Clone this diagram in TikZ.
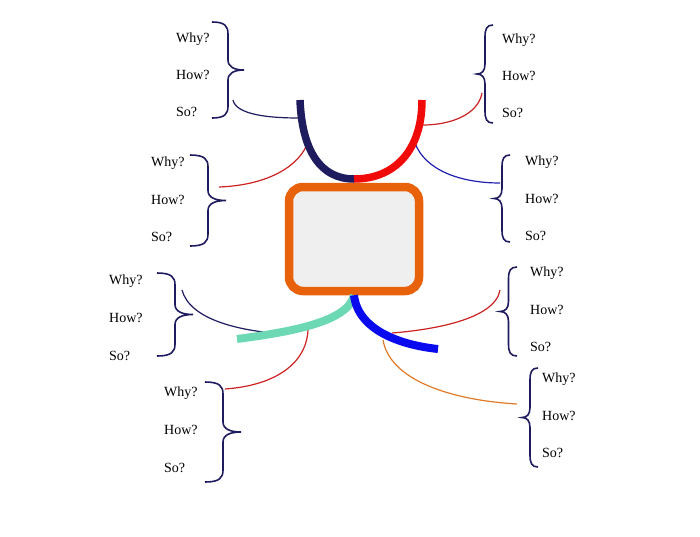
\documentclass[tikz,border=0pt]{standalone}
\usepackage{fontspec}
\setmainfont{Liberation Serif}
\usepackage{tikz}

\definecolor{inkNavy}{HTML}{1E1B5E}
\definecolor{armRed}{HTML}{F00A0A}
\definecolor{twigRed}{HTML}{CC2222}
\definecolor{twigBlue}{HTML}{2020B0}
\definecolor{armBlue}{HTML}{0A0AEE}
\definecolor{armTeal}{HTML}{6CD9B4}
\definecolor{boxOrange}{HTML}{E8620C}
\definecolor{twigOrange}{HTML}{E07A28}
\definecolor{boxGray}{HTML}{EFEFEF}

\begin{document}
\begin{tikzpicture}[
    x=1pt, y=-1pt,
    q/.style={anchor=base west, inner sep=0pt, font=\fontsize{14}{16}\selectfont},
    arm/.style={line width=7.5pt},
    twig/.style={line width=1.2pt},
    % hand-drawn curly brace: #1 = height, #2 = offset of the straight part
    pics/qbrace/.style 2 args={code={
        \draw[inkNavy, line width=1.6pt]
            (0,0) .. controls ({0.8*#2},0) and (#2,4) .. (#2,12)
            -- (#2,{#1/2-10}) .. controls (#2,{#1/2-3}) and ({1.4*#2},{#1/2}) .. ({2*#2},{#1/2})
            .. controls ({1.4*#2},{#1/2}) and (#2,{#1/2+3}) .. (#2,{#1/2+10})
            -- (#2,{#1-12}) .. controls (#2,{#1-4}) and ({0.8*#2},#1) .. (0,#1);
    }}
]
    \useasboundingbox (0,0) rectangle (700,536);

    % Centre box
    \node[draw=boxOrange, line width=8.5pt, fill=boxGray, rounded corners=14pt,
          minimum width=130pt, minimum height=104pt] (core) at (354,239) {};

    % Question groups
    \node[q] (w1) at (176,42) {Why?};  \node[q] (h1) at (176,79) {How?};  \node[q] (s1) at (176,116) {So?};
    \node[q] (w2) at (502,43) {Why?};  \node[q] (h2) at (502,80) {How?};  \node[q] (s2) at (502,117) {So?};
    \node[q] (w3) at (151,166) {Why?}; \node[q] (h3) at (151,204) {How?}; \node[q] (s3) at (151,241) {So?};
    \node[q] (w4) at (525,165) {Why?}; \node[q] (h4) at (525,203) {How?}; \node[q] (s4) at (525,240) {So?};
    \node[q] (w5) at (109,284) {Why?}; \node[q] (h5) at (109,322) {How?}; \node[q] (s5) at (109,360) {So?};
    \node[q] (w6) at (164,396) {Why?}; \node[q] (h6) at (164,434) {How?}; \node[q] (s6) at (164,472) {So?};
    \node[q] (w7) at (530,276) {Why?}; \node[q] (h7) at (530,314) {How?}; \node[q] (s7) at (530,351) {So?};
    \node[q] (w8) at (542,382) {Why?}; \node[q] (h8) at (542,420) {How?}; \node[q] (s8) at (542,457) {So?};

    % Braces
    \pic (br1) at (212,22)  {qbrace={96}{16}};
    \pic (br2) at (493,25)  {qbrace={98}{-8}};
    \pic (br3) at (190,155) {qbrace={91}{18}};
    \pic (br4) at (510,155) {qbrace={87}{-8}};
    \pic (br5) at (157,273) {qbrace={83}{18}};
    \pic (br6) at (205,382) {qbrace={100}{18}};
    \pic (br7) at (517,267) {qbrace={89}{-8.5}};
    \pic (br8) at (538,368) {qbrace={99}{-8}};

    % Thick arms
    \coordinate (armL) at (300,100);
    \coordinate (armR) at (422,100);
    \coordinate (armB) at (354,179);
    \coordinate (tealEnd) at (237,339);
    \coordinate (blueEnd) at (438,349);

    % Thin twigs
    \coordinate (t1a) at (233,100); \coordinate (t1b) at (299,118);
    \coordinate (t2a) at (482,93);  \coordinate (t2b) at (423,125);
    \coordinate (t3a) at (219,187); \coordinate (t3b) at (308,142);
    \coordinate (t4a) at (415,143); \coordinate (t4b) at (500,183);
    \coordinate (t5a) at (182,290); \coordinate (t5b) at (273,333);
    \coordinate (t6a) at (225,389); \coordinate (t6b) at (308,328);
    \coordinate (t7a) at (500,290); \coordinate (t7b) at (392,333);
    \coordinate (t8a) at (383,340); \coordinate (t8b) at (517,404);

    \draw[twig, inkNavy] (t1a) .. controls (236,115) and (270,118) .. (t1b);
    \draw[twig, twigRed] (t2a) .. controls (478,115) and (450,125) .. (t2b);
    \draw[twig, twigRed] (t3a) .. controls (270,185) and (300,165) .. (t3b);
    \draw[twig, twigBlue] (t4a) .. controls (425,170) and (460,183) .. (t4b);
    \draw[twig, inkNavy] (t5a) .. controls (190,320) and (240,330) .. (t5b);
    \draw[twig, twigRed] (t6a) .. controls (280,385) and (308,360) .. (t6b);
    \draw[twig, twigRed] (t7a) .. controls (495,320) and (430,330) .. (t7b);
    \draw[twig, twigOrange] (t8a) .. controls (390,380) and (450,400) .. (t8b);

    \draw[arm, inkNavy] (armL) .. controls (302,150) and (320,179) .. (armB);
    \draw[arm, armRed] (armB) .. controls (395,179) and (422,150) .. (armR);
    \draw[arm, line width=8pt, armTeal] (core.south) .. controls (348,322) and (290,332) .. (tealEnd);
    \draw[arm, line width=8pt, armBlue] (core.south) .. controls (358,330) and (400,345) .. (blueEnd);

\end{tikzpicture}
\end{document}
